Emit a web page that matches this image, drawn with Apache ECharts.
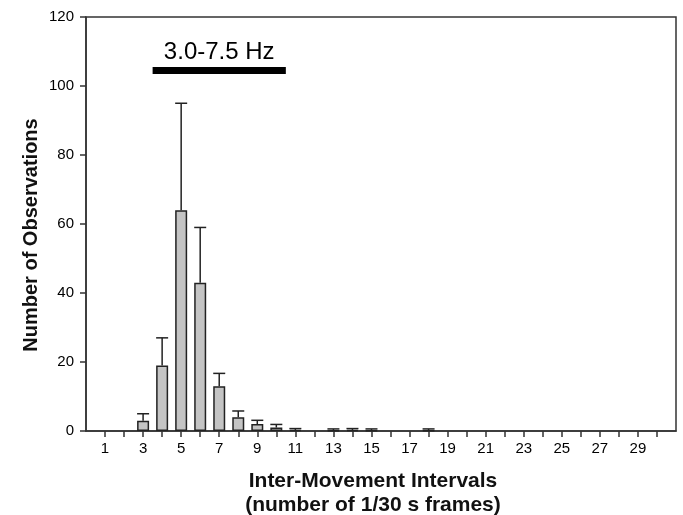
<!DOCTYPE html>
<html>
<head>
<meta charset="utf-8">
<script src="https://cdn.jsdelivr.net/npm/echarts@6/dist/echarts.min.js"></script>
<style>
	html, body {margin: 0; padding: 0; background: #fff;}
	#chart {width: 683px; height: 515px;}
</style>
</head>
<body>
<div id="chart"></div>
<script>
// categories 0..31, only 1..30 carry ticks, odd 1..29 carry labels
var frames = [];
for (var i = 0; i <= 31; i++) frames.push(String(i));

// mean observations per interval, '-' = no bar
var counts = ['-', '-', '-', 3, 19, 64, 43, 13, 4, 2, 1, 0.3, '-', 0.1, 0.3, 0.1, '-', '-', 0.1, '-', '-', '-', '-', '-', '-', '-', '-', '-', '-', '-', '-', '-'];
// upper error (SD) per interval
var errors = [0, 0, 0, 2, 8, 31, 16, 3.7, 1.8, 1.1, 0.9, 0.4, 0, 0.5, 0.4, 0.5, 0, 0, 0.5, 0, 0, 0, 0, 0, 0, 0, 0, 0, 0, 0, 0, 0];

var yTicks = [0, 20, 40, 60, 80, 100, 120];
var hzBand = [3.5, 10.5];   // 3.0-7.5 Hz range marked in frame units
var hzLevel = 104.6;
var hzText = '3.0-7.5 Hz';

var errData = [];
for (var i = 0; i < counts.length; i++) {
	if (counts[i] !== '-') errData.push([i, counts[i], errors[i]]);
}

var myChart = echarts.init(document.getElementById('chart'));
var axisColor = '#333';
var option = {
	animation: false,
	grid: {
		left: 86, right: 7, top: 17, bottom: 84,
		show: true, borderColor: axisColor, borderWidth: 1.5
	},
	xAxis: [
		{
			type: 'category',
			data: frames,
			boundaryGap: false,
			axisLine: {lineStyle: {color: axisColor, width: 1.5}},
			axisTick: {
				length: 6,
				lineStyle: {color: axisColor, width: 1.5},
				interval: function (index) {
					return index >= 1 && index <= 30;
				}
			},
			axisLabel: {
				fontFamily: 'Liberation Sans, Arial',
				fontSize: 15,
				color: '#000',
				margin: 10,
				interval: function (index) {
					return index % 2 === 1 && index <= 29;
				}
			},
			splitLine: {show: false}
		},
		{
			type: 'value',
			min: 0,
			max: 31,
			show: false
		}
	],
	yAxis: {
		type: 'value',
		min: yTicks[0],
		max: yTicks[yTicks.length - 1],
		interval: 20,
		axisLine: {show: true, lineStyle: {color: axisColor, width: 1.5}},
		axisTick: {show: true, length: 6, lineStyle: {color: axisColor, width: 1.5}},
		axisLabel: {
			fontFamily: 'Liberation Sans, Arial',
			fontSize: 15,
			color: '#000',
			margin: 12
		},
		splitLine: {show: false}
	},
	series: [
		{
			type: 'bar',
			data: counts,
			barWidth: 12,
			itemStyle: {color: '#c4c4c4', borderColor: '#222', borderWidth: 1.5},
			z: 3
		},
		{
			type: 'custom',
			data: errData,
			encode: {x: 0, y: 1},
			z: 4,
			renderItem: function (params, api) {
				var x = api.value(0);
				var v = api.value(1);
				var e = api.value(2);
				var base = api.coord([x, v]);
				var top = api.coord([x, v + e]);
				var half = 6;
				var style = {stroke: '#222', lineWidth: 1.5};
				return {
					type: 'group',
					children: [
						{type: 'line', shape: {x1: base[0], y1: base[1], x2: top[0], y2: top[1]}, style: style},
						{type: 'line', shape: {x1: top[0] - half, y1: top[1], x2: top[0] + half, y2: top[1]}, style: style}
					]
				};
			}
		},
		{
			type: 'line',
			xAxisIndex: 1,
			data: [],
			silent: true,
			markLine: {
				silent: true,
				symbol: ['none', 'none'],
				lineStyle: {color: '#000', width: 7, type: 'solid'},
				label: {
					show: true,
					position: 'middle',
					formatter: hzText,
					fontFamily: 'Liberation Sans, Arial',
					fontSize: 24,
					color: '#000',
					distance: 6
				},
				data: [[{coord: [hzBand[0], hzLevel]}, {coord: [hzBand[1], hzLevel]}]]
			}
		}
	],
	graphic: [
		{
			type: 'text',
			x: 31,
			y: 235,
			rotation: Math.PI / 2,
			style: {
				text: 'Number of Observations',
				font: 'bold 20px "Liberation Sans", Arial',
				fill: '#111',
				align: 'center',
				verticalAlign: 'middle'
			}
		},
		{
			type: 'text',
			x: 373,
			y: 493,
			style: {
				text: 'Inter-Movement Intervals\n(number of 1/30 s frames)',
				font: 'bold 21px "Liberation Sans", Arial',
				fill: '#111',
				align: 'center',
				verticalAlign: 'middle',
				lineHeight: 24
			}
		}
	]
};
myChart.setOption(option);
</script>
</body>
</html>
